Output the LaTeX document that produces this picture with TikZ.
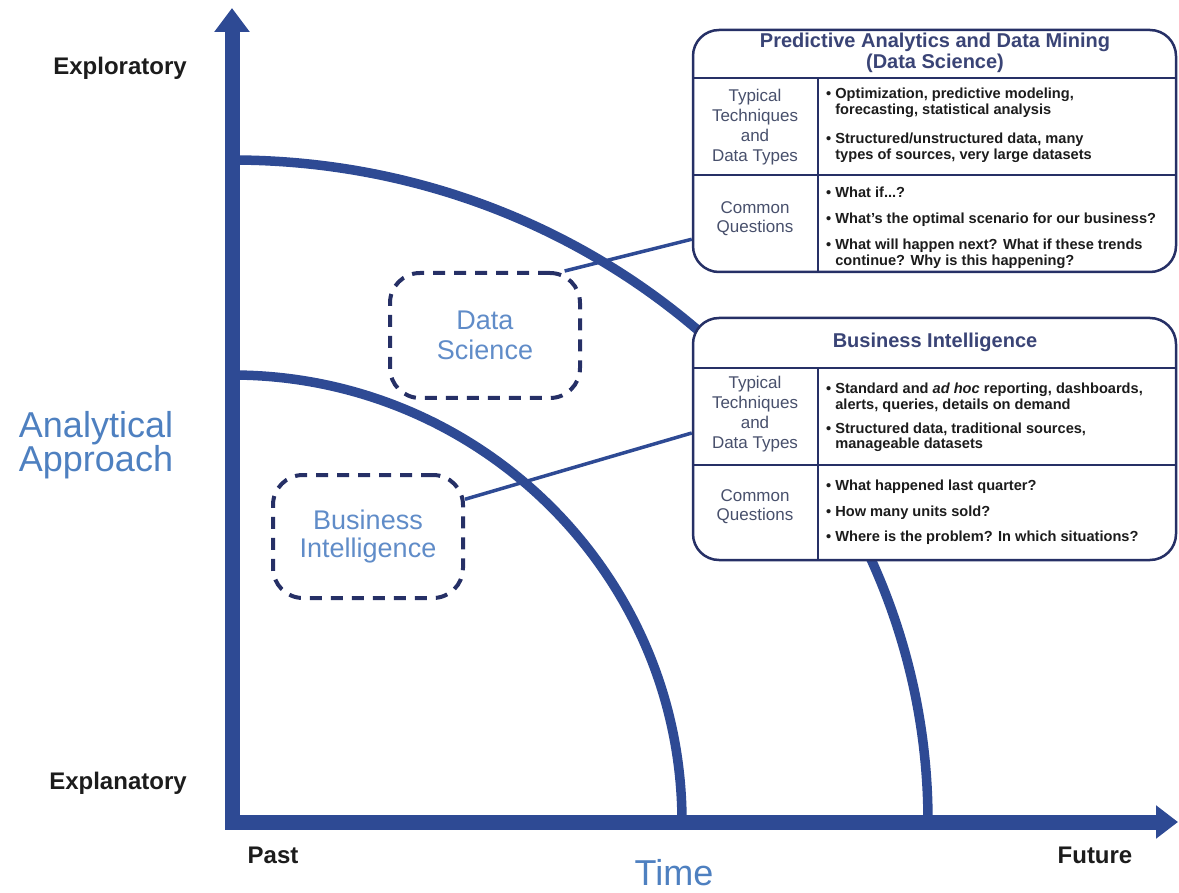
\documentclass[tikz,border=0pt]{standalone}
\usepackage{fontspec}
\setmainfont{Liberation Sans}
\usetikzlibrary{arrows.meta,calc}

\definecolor{axisblue}{RGB}{46,74,148}
\definecolor{boxnavy}{RGB}{38,48,102}
\definecolor{headslate}{RGB}{58,68,118}
\definecolor{cellgray}{RGB}{72,80,108}
\definecolor{bigblue}{RGB}{78,128,192}
\definecolor{softblue}{RGB}{96,140,200}
\definecolor{inkblack}{RGB}{28,28,28}

\tikzset{
  axisline/.style={line width=15pt, draw=axisblue, line join=miter},
  eraarc/.style={line width=9.5pt, draw=axisblue},
  infobox/.style={draw=boxnavy, line width=2.5pt, fill=white, rounded corners=26pt, inner sep=0pt},
  cellrule/.style={draw=boxnavy, line width=2.5pt},
  eratag/.style={draw=boxnavy, line width=4pt, dash pattern=on 12pt off 9pt, rounded corners=30pt,
    minimum width=190pt, minimum height=125pt, text=softblue, align=center},
  tagline/.style={draw=axisblue, line width=3.5pt},
  endlabel/.style={text=inkblack, font=\fontsize{24pt}{26pt}\selectfont\bfseries},
  axistitle/.style={text=bigblue, align=center, font=\fontsize{36pt}{34pt}\selectfont},
  boxhead/.style={text=headslate, align=center, font=\fontsize{20pt}{21pt}\selectfont\bfseries},
  celllabel/.style={text=cellgray, align=center, font=\fontsize{17pt}{20pt}\selectfont},
  cellitem/.style={text=inkblack, align=left, anchor=west, inner sep=0pt,
    font=\fontsize{14.6pt}{15.5pt}\selectfont\bfseries},
}
\newcommand{\hang}{\phantom{\textbullet\ }}

\begin{document}
\begin{tikzpicture}[x=1pt,y=-1pt]
\useasboundingbox (0,0) rectangle (1179,893);

% the two eras
\draw[eraarc] (232,160) .. controls (616,160) and (928,456) .. (928,822);
\draw[eraarc] (232,375) .. controls (480,375) and (682,575) .. (682,822);

% axes
\draw[axisline, {Triangle[width=34pt,length=24pt]}-{Triangle[width=32pt,length=22pt]}]
  (232,8) -- (232,822) -- (1178,822);

\node[endlabel] (explor) at (120,68) {Exploratory};
\node[endlabel] (explan) at (118,783) {Explanatory};
\node[endlabel] (past) at (273,855) {Past};
\node[endlabel] (future) at (1095,855) {Future};
\node[axistitle] (approach) at (96,445) {Analytical\\Approach};
\node[axistitle] (time) at (674,873) {Time};

% dashed tags
\node[eratag, font=\fontsize{27pt}{30pt}\selectfont] (dstag) at (485,335.5) {Data\\Science};
\node[eratag, minimum height=123pt, font=\fontsize{27pt}{28pt}\selectfont] (bitag) at (368,536.5) {Business\\Intelligence};

% data science box
\node[infobox, minimum width=483pt, minimum height=242pt] (dsbox) at (934.5,151) {};
\draw[cellrule] (693,78) -- (1176,78);
\draw[cellrule] (693,175) -- (1176,175);
\draw[cellrule] (818,78) -- (818,272);
\node[boxhead] (dshead) at (935,53) {Predictive Analytics and Data Mining\\(Data Science)};
\node[celllabel] (dstech) at (755,127) {Typical\\Techniques\\and\\Data Types};
\node[celllabel, font=\fontsize{17pt}{19pt}\selectfont] (dsques) at (755,218.5) {Common\\Questions};
\node[cellitem] (dsa) at (826,103) {\textbullet\ Optimization, predictive modeling,\\\hang forecasting, statistical analysis};
\node[cellitem] (dsb) at (826,148) {\textbullet\ Structured/unstructured data, many\\\hang types of sources, very large datasets};
\node[cellitem] (dsc) at (826,192) {\textbullet\ What if...?};
\node[cellitem] (dsd) at (826,220) {\textbullet\ What's the optimal scenario for our business?};
\node[cellitem] (dse) at (826,254) {\textbullet\ What will happen next? What if these trends\\\hang continue? Why is this happening?};

% business intelligence box
\node[infobox, minimum width=483pt, minimum height=242pt] (bibox) at (934.5,439) {};
\draw[cellrule] (693,368) -- (1176,368);
\draw[cellrule] (693,465) -- (1176,465);
\draw[cellrule] (818,368) -- (818,560);
\node[boxhead] (bihead) at (935,342) {Business Intelligence};
\node[celllabel] (bitech) at (755,414) {Typical\\Techniques\\and\\Data Types};
\node[celllabel, font=\fontsize{17pt}{19pt}\selectfont] (biques) at (755,507) {Common\\Questions};
\node[cellitem] (bia) at (826,397.5) {\textbullet\ Standard and \textit{ad hoc} reporting, dashboards,\\\hang alerts, queries, details on demand};
\node[cellitem] (bib) at (826,437.5) {\textbullet\ Structured data, traditional sources,\\\hang manageable datasets};
\node[cellitem] (bic) at (826,487) {\textbullet\ What happened last quarter?};
\node[cellitem] (bid) at (826,513) {\textbullet\ How many units sold?};
\node[cellitem] (bie) at (826,538) {\textbullet\ Where is the problem? In which situations?};

% connectors
\draw[tagline] (dstag.39) -- ($(dsbox.south west)+(0,-34)$);
\draw[tagline] (bitag.21) -- ($(bibox.west)+(0,-6)$);
\end{tikzpicture}
\end{document}
